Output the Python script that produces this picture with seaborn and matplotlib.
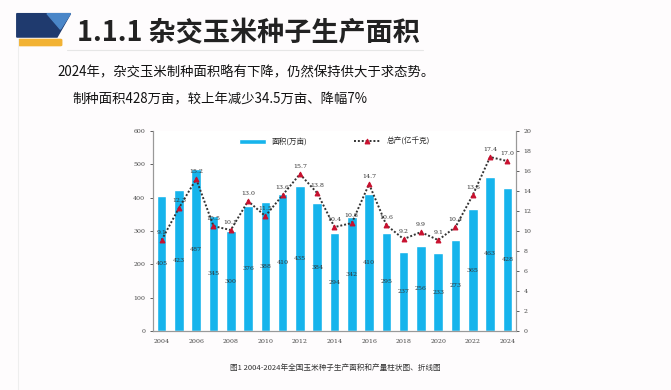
import numpy as np
import pandas as pd
import seaborn as sns
import matplotlib.pyplot as plt
from matplotlib.patches import Polygon, FancyBboxPatch
from matplotlib.lines import Line2D

# data
years = list(range(2004, 2025))
area = [405, 423, 487, 345, 300, 376, 388, 410, 435, 384, 294,
        342, 410, 295, 237, 256, 233, 273, 365, 463, 428]
output = [9.1, 12.3, 15.2, 10.5, 10.1, 13.0, 11.5, 13.6, 15.7, 13.8, 10.4,
          10.8, 14.7, 10.6, 9.2, 9.9, 9.1, 10.4, 13.6, 17.4, 17.0]
xticks = list(range(2004, 2025, 2))

df = pd.DataFrame({'year': years, 'area': area, 'output': output})

sns.set_theme(style='white')
plt.rcParams['font.family'] = ['Noto Sans CJK SC', 'DejaVu Sans']

fig = plt.figure(figsize=(6.71, 3.90), dpi=100)
fig.patch.set_facecolor('#fefcfd')

# slide decoration
fig.patches.append(Polygon([[0.025, 0.965], [0.105, 0.965], [0.085, 0.905], [0.025, 0.905]],
                           closed=True, transform=fig.transFigure, color='#1f3a6e'))
fig.patches.append(Polygon([[0.07, 0.965], [0.105, 0.965], [0.09, 0.925]],
                           closed=True, transform=fig.transFigure, color='#4a86c8'))
fig.patches.append(FancyBboxPatch((0.03, 0.885), 0.06, 0.012, boxstyle='round,pad=0.002',
                                  transform=fig.transFigure, color='#f2b233'))
fig.add_artist(Line2D([0.1, 0.63], [0.872, 0.872], transform=fig.transFigure,
                      color='#e6e6e6', lw=0.8))
fig.add_artist(Line2D([0.027, 0.027], [0.0, 0.9], transform=fig.transFigure,
                      color='#eeeeee', lw=0.8))

fig.text(0.115, 0.915, '1.1.1 杂交玉米种子生产面积', fontsize=19.5, fontweight='bold',
         color='#222222', va='center')
fig.text(0.085, 0.815, '2024年，杂交玉米制种面积略有下降，仍然保持供大于求态势。',
         fontsize=9.6, color='#111111', va='center')
fig.text(0.108, 0.745, '制种面积428万亩，较上年减少34.5万亩、降幅7%',
         fontsize=9.6, color='#111111', va='center')

ax = fig.add_axes([0.228, 0.151, 0.541, 0.513])
bar_color = '#16b4ec'
sns.barplot(data=df, x='year', y='area', native_scale=True, width=0.55,
            color=bar_color, saturation=1, ax=ax, label='面积(万亩)')
for y, v in zip(years, area):
    ax.text(y, v / 2, str(v), ha='center', va='center', fontsize=4.5,
            color='#333333', family='DejaVu Serif')

ax.set_xlim(2003.5, 2024.5)
ax.set_ylim(0, 600)
ax.set_yticks(range(0, 601, 100))
ax.set_xticks(xticks)
ax.set_xlabel('')
ax.set_ylabel('')
ax.tick_params(axis='both', labelsize=4.5, colors='#444444', length=2, width=0.6)
for lab in ax.get_xticklabels() + ax.get_yticklabels():
    lab.set_family('DejaVu Serif')
ax.spines['top'].set_visible(False)
for s in ['left', 'bottom', 'right']:
    ax.spines[s].set_color('#999999')
    ax.spines[s].set_linewidth(0.8)

ax2 = ax.twinx()
sns.lineplot(data=df, x='year', y='output', ax=ax2, color='#333333', lw=1.4,
             linestyle=(0, (1, 1)), marker='^', markersize=3.5,
             markerfacecolor='#c8102e', markeredgecolor='#c8102e', label='总产(亿千克)')
for y, v in zip(years, output):
    ax2.text(y, v + 0.55, f'{v:.1f}', ha='center', va='bottom', fontsize=4.5,
             color='#333333', family='DejaVu Serif')
ax2.set_ylim(0, 20)
ax2.set_yticks(range(0, 21, 2))
ax2.set_ylabel('')
ax2.tick_params(axis='y', labelsize=4.5, colors='#444444', length=2, width=0.6)
for lab in ax2.get_yticklabels():
    lab.set_family('DejaVu Serif')
ax2.spines['top'].set_visible(False)
for s in ['left', 'bottom', 'right']:
    ax2.spines[s].set_color('#999999')
    ax2.spines[s].set_linewidth(0.8)

h1, l1 = ax.get_legend_handles_labels()
h2, l2 = ax2.get_legend_handles_labels()
if ax.get_legend():
    ax.get_legend().remove()
ax2.legend(h1 + h2, l1 + l2, loc='upper center', bbox_to_anchor=(0.5, 1.0), ncol=2,
           frameon=False, fontsize=5.5, columnspacing=6, handlelength=3.5)

fig.text(0.5, 0.057, '图1 2004-2024年全国玉米种子生产面积和产量柱状图、折线图',
         ha='center', va='center', fontsize=5.5, color='#333333')

fig.savefig('out.png', dpi=100, facecolor=fig.get_facecolor())
